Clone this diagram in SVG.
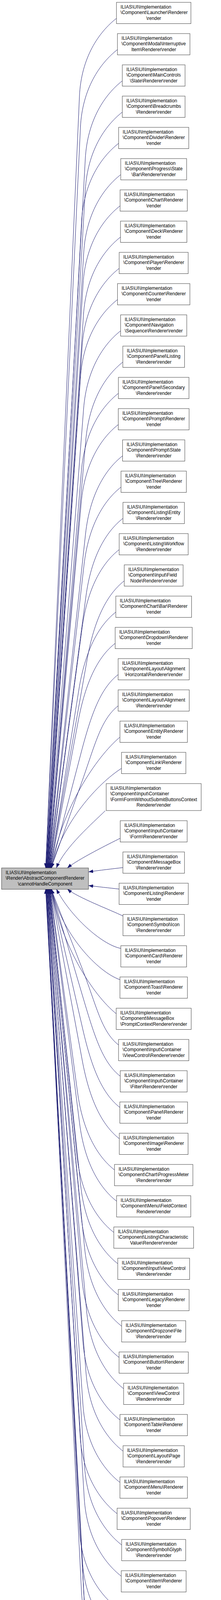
<svg xmlns="http://www.w3.org/2000/svg" width="567" height="4483" viewBox="0 0 567 4483">
<style>
.box{fill:#ffffff;stroke:#404040;stroke-width:1}
.main{fill:#bfbfbf;stroke:#404040;stroke-width:1}
text{font-family:"Liberation Sans",Arial,Helvetica,sans-serif;font-size:12px;fill:#000000}
.c{text-anchor:middle}
.e{fill:none;stroke:#191970;stroke-width:1;marker-end:url(#arr)}
</style>
<defs>
<marker id="arr" markerUnits="userSpaceOnUse" markerWidth="12" markerHeight="9" viewBox="0 0 12 9" refX="12" refY="4.5" orient="auto"><path d="M0,0 L12,4.5 L0,9 Z" fill="#191970"/></marker>
</defs>
<rect width="567" height="4483" fill="#ffffff"/>
<g id="edges">
<path class="e" d="M298.8,47 C253.8,82 208.2,147 203.8,247 L117,2222"/>
<path class="e" d="M301.3,127 C256.3,162 211,227 206.3,327 L117.65,2222"/>
<path class="e" d="M313.8,207 C268.8,242 224.3,307 218.8,407 L118.3,2222"/>
<path class="e" d="M313.8,287 C268.8,322 224.6,387 218.8,487 L118.95,2222"/>
<path class="e" d="M304.3,367 C259.3,402 214.7,467 209.3,567 L119.6,2222"/>
<path class="e" d="M309.8,447 C264.8,482 220.8,547 214.8,647 L120.25,2222"/>
<path class="e" d="M308.1,527 C263.1,562 219.3,627 213.1,727 L120.9,2222"/>
<path class="e" d="M309.1,607 C264.1,642 220.6,707 214.1,807 L121.55,2222"/>
<path class="e" d="M305.8,687 C260.8,722 217.4,787 210.8,887 L122.2,2222"/>
<path class="e" d="M301.45,767 C256.45,802 213.1,867 206.45,967 L122.85,2222"/>
<path class="e" d="M309.45,847 C264.45,882 222.2,947 214.45,1047 L123.5,2222"/>
<path class="e" d="M315.1,927 C270.1,962 228.9,1027 220.1,1127 L124.15,2222"/>
<path class="e" d="M303.75,1007 C258.75,1042 217,1107 208.75,1207 L124.8,2222"/>
<path class="e" d="M303.45,1087 C258.45,1122 217.3,1187 208.45,1287 L125.45,2222"/>
<path class="e" d="M314.45,1167 C269.45,1202 230.4,1267 219.45,1367 L126.1,2222"/>
<path class="e" d="M310.45,1247 C265.45,1282 226.9,1347 215.45,1447 L126.75,2222"/>
<path class="e" d="M315.45,1327 C270.45,1362 233.8,1427 220.45,1527 L127.4,2222"/>
<path class="e" d="M305.8,1407 C260.8,1442 224.3,1507 210.8,1607 L128.05,2222"/>
<path class="e" d="M318.8,1487 C273.8,1522 241.6,1587 223.8,1687 L128.7,2222"/>
<path class="e" d="M297.1,1567 C252.1,1602 218.1,1667 202.1,1767 L129.35,2222"/>
<path class="e" d="M295.45,1647 C250.45,1682 219.2,1747 200.45,1847 L130,2222"/>
<path class="e" d="M303.1,1727 C258.1,1762 234.35,1827 208.1,1927 L130.65,2222"/>
<path class="e" d="M303.1,1807 C258.1,1842 243.8,1907 208.1,2007 L131.3,2222"/>
<path class="e" d="M307.75,1887 C247.75,1937 157,2071 131.95,2222"/>
<path class="e" d="M311.75,1967 C251.75,2005 157.6,2107 132.6,2222"/>
<path class="e" d="M270,2075.5 C240,2105 165,2170 144.7,2222"/>
<path class="e" d="M308.45,2146 C280,2160 200,2200 172.6,2222"/>
<path class="e" d="M315.3,2221 C290,2224 255,2228 227,2232"/>
<path class="e" d="M305.55,2276 C280,2273 250,2270 227,2267"/>
<path class="e" d="M315.5,2345 C285,2330 200,2298 172.6,2276"/>
<path class="e" d="M310,2428 C260,2418 180,2345 144.7,2276"/>
<path class="e" d="M307.75,2508 C250,2488 158,2390 132.6,2276"/>
<path class="e" d="M298.1,2595 C238.1,2547 157,2420 131.95,2276"/>
<path class="e" d="M304.1,2675 C259.1,2640 248.2,2575 209.1,2475 L131.3,2276"/>
<path class="e" d="M308.45,2755 C263.45,2720 243.15,2655 213.45,2555 L130.65,2276"/>
<path class="e" d="M307.45,2835 C262.45,2800 235.4,2735 212.45,2635 L130,2276"/>
<path class="e" d="M306.1,2915 C261.1,2880 229.7,2815 211.1,2715 L129.35,2276"/>
<path class="e" d="M293.75,2995 C248.75,2960 212.25,2895 198.75,2795 L128.7,2276"/>
<path class="e" d="M299.1,3075 C254.1,3040 216.8,2975 204.1,2875 L128.05,2276"/>
<path class="e" d="M291.95,3155 C246.95,3120 207.2,3055 196.95,2955 L127.4,2276"/>
<path class="e" d="M302.1,3235 C257.1,3200 217.7,3135 207.1,3035 L126.75,2276"/>
<path class="e" d="M303.45,3315 C258.45,3280 218.3,3215 208.45,3115 L126.1,2276"/>
<path class="e" d="M312.1,3395 C267.1,3360 227.1,3295 217.1,3195 L125.45,2276"/>
<path class="e" d="M305.45,3475 C260.45,3440 219,3375 210.45,3275 L124.8,2276"/>
<path class="e" d="M317.1,3555 C272.1,3520 231.2,3455 222.1,3355 L124.15,2276"/>
<path class="e" d="M307.75,3635 C262.75,3600 220.5,3535 212.75,3435 L123.5,2276"/>
<path class="e" d="M315.75,3715 C270.75,3680 228.7,3615 220.75,3515 L122.85,2276"/>
<path class="e" d="M307.75,3795 C262.75,3760 219.6,3695 212.75,3595 L122.2,2276"/>
<path class="e" d="M300.45,3875 C255.45,3840 211.45,3775 205.45,3675 L121.55,2276"/>
<path class="e" d="M312.1,3955 C267.1,3920 223.6,3855 217.1,3755 L120.9,2276"/>
<path class="e" d="M311.1,4035 C266.1,4000 222.3,3935 216.1,3835 L120.25,2276"/>
<path class="e" d="M298.75,4115 C253.75,4080 208.9,4015 203.75,3915 L119.6,2276"/>
<path class="e" d="M306.45,4195 C261.45,4160 216.85,4095 211.45,3995 L118.95,2276"/>
<path class="e" d="M304.1,4275 C259.1,4240 214.15,4175 209.1,4075 L118.3,2276"/>
<path class="e" d="M314.1,4355 C269.1,4320 224.5,4255 219.1,4155 L117.65,2276"/>
<path class="e" d="M318.75,4435 C273.75,4400 229.2,4335 223.75,4235 L117,2276"/>
</g>
<g id="node0"><rect class="main" x="4" y="2222" width="223" height="54.5"/><text x="14.5" y="2237.5">ILIAS\UI\Implementation</text><text x="14.5" y="2252">\Render\AbstractComponentRenderer</text><text class="c" x="115.5" y="2266.5">\cannotHandleComponent</text></g>
<g id="node1"><rect class="box" x="298.8" y="6" width="191" height="54.5"/><text x="309.3" y="21.5">ILIAS\UI\Implementation</text><text x="309.3" y="36">\Component\Launcher\Renderer</text><text class="c" x="394.3" y="50.5">\render</text></g>
<g id="node2"><rect class="box" x="301.3" y="86" width="186" height="54.5"/><text x="311.8" y="101.5">ILIAS\UI\Implementation</text><text x="311.8" y="116">\Component\Modal\Interruptive</text><text class="c" x="394.3" y="130.5">Item\Renderer\render</text></g>
<g id="node3"><rect class="box" x="313.8" y="166" width="161" height="54.5"/><text x="324.3" y="181.5">ILIAS\UI\Implementation</text><text x="324.3" y="196">\Component\MainControls</text><text class="c" x="394.3" y="210.5">\Slate\Renderer\render</text></g>
<g id="node4"><rect class="box" x="313.8" y="246" width="161" height="54.5"/><text x="324.3" y="261.5">ILIAS\UI\Implementation</text><text x="324.3" y="276">\Component\Breadcrumbs</text><text class="c" x="394.3" y="290.5">\Renderer\render</text></g>
<g id="node5"><rect class="box" x="304.3" y="326" width="180" height="54.5"/><text x="314.8" y="341.5">ILIAS\UI\Implementation</text><text x="314.8" y="356">\Component\Divider\Renderer</text><text class="c" x="394.3" y="370.5">\render</text></g>
<g id="node6"><rect class="box" x="309.8" y="406" width="169" height="54.5"/><text x="320.3" y="421.5">ILIAS\UI\Implementation</text><text x="320.3" y="436">\Component\Progress\State</text><text class="c" x="394.3" y="450.5">\Bar\Renderer\render</text></g>
<g id="node7"><rect class="box" x="308.1" y="486" width="172.4" height="54.5"/><text x="318.6" y="501.5">ILIAS\UI\Implementation</text><text x="318.6" y="516">\Component\Chart\Renderer</text><text class="c" x="394.3" y="530.5">\render</text></g>
<g id="node8"><rect class="box" x="309.1" y="566" width="170.4" height="54.5"/><text x="319.6" y="581.5">ILIAS\UI\Implementation</text><text x="319.6" y="596">\Component\Deck\Renderer</text><text class="c" x="394.3" y="610.5">\render</text></g>
<g id="node9"><rect class="box" x="305.8" y="646" width="177" height="54.5"/><text x="316.3" y="661.5">ILIAS\UI\Implementation</text><text x="316.3" y="676">\Component\Player\Renderer</text><text class="c" x="394.3" y="690.5">\render</text></g>
<g id="node10"><rect class="box" x="301.45" y="726" width="185.7" height="54.5"/><text x="311.95" y="741.5">ILIAS\UI\Implementation</text><text x="311.95" y="756">\Component\Counter\Renderer</text><text class="c" x="394.3" y="770.5">\render</text></g>
<g id="node11"><rect class="box" x="309.45" y="806" width="169.7" height="54.5"/><text x="319.95" y="821.5">ILIAS\UI\Implementation</text><text x="319.95" y="836">\Component\Navigation</text><text class="c" x="394.3" y="850.5">\Sequence\Renderer\render</text></g>
<g id="node12"><rect class="box" x="315.1" y="886" width="158.4" height="54.5"/><text x="325.6" y="901.5">ILIAS\UI\Implementation</text><text x="325.6" y="916">\Component\Panel\Listing</text><text class="c" x="394.3" y="930.5">\Renderer\render</text></g>
<g id="node13"><rect class="box" x="303.75" y="966" width="181.1" height="54.5"/><text x="314.25" y="981.5">ILIAS\UI\Implementation</text><text x="314.25" y="996">\Component\Panel\Secondary</text><text class="c" x="394.3" y="1010.5">\Renderer\render</text></g>
<g id="node14"><rect class="box" x="303.45" y="1046" width="181.7" height="54.5"/><text x="313.95" y="1061.5">ILIAS\UI\Implementation</text><text x="313.95" y="1076">\Component\Prompt\Renderer</text><text class="c" x="394.3" y="1090.5">\render</text></g>
<g id="node15"><rect class="box" x="314.45" y="1126" width="159.7" height="54.5"/><text x="324.95" y="1141.5">ILIAS\UI\Implementation</text><text x="324.95" y="1156">\Component\Prompt\State</text><text class="c" x="394.3" y="1170.5">\Renderer\render</text></g>
<g id="node16"><rect class="box" x="310.45" y="1206" width="167.7" height="54.5"/><text x="320.95" y="1221.5">ILIAS\UI\Implementation</text><text x="320.95" y="1236">\Component\Tree\Renderer</text><text class="c" x="394.3" y="1250.5">\render</text></g>
<g id="node17"><rect class="box" x="315.45" y="1286" width="157.7" height="54.5"/><text x="325.95" y="1301.5">ILIAS\UI\Implementation</text><text x="325.95" y="1316">\Component\Listing\Entity</text><text class="c" x="394.3" y="1330.5">\Renderer\render</text></g>
<g id="node18"><rect class="box" x="305.8" y="1366" width="177" height="54.5"/><text x="316.3" y="1381.5">ILIAS\UI\Implementation</text><text x="316.3" y="1396">\Component\Listing\Workflow</text><text class="c" x="394.3" y="1410.5">\Renderer\render</text></g>
<g id="node19"><rect class="box" x="318.8" y="1446" width="151" height="54.5"/><text x="329.3" y="1461.5">ILIAS\UI\Implementation</text><text x="329.3" y="1476">\Component\Input\Field</text><text class="c" x="394.3" y="1490.5">Node\Renderer\render</text></g>
<g id="node20"><rect class="box" x="297.1" y="1526" width="194.4" height="54.5"/><text x="307.6" y="1541.5">ILIAS\UI\Implementation</text><text x="307.6" y="1556">\Component\Chart\Bar\Renderer</text><text class="c" x="394.3" y="1570.5">\render</text></g>
<g id="node21"><rect class="box" x="295.45" y="1606" width="197.7" height="54.5"/><text x="305.95" y="1621.5">ILIAS\UI\Implementation</text><text x="305.95" y="1636">\Component\Dropdown\Renderer</text><text class="c" x="394.3" y="1650.5">\render</text></g>
<g id="node22"><rect class="box" x="303.1" y="1686" width="182.4" height="54.5"/><text x="313.6" y="1701.5">ILIAS\UI\Implementation</text><text x="313.6" y="1716">\Component\Layout\Alignment</text><text class="c" x="394.3" y="1730.5">\Horizontal\Renderer\render</text></g>
<g id="node23"><rect class="box" x="303.1" y="1766" width="182.4" height="54.5"/><text x="313.6" y="1781.5">ILIAS\UI\Implementation</text><text x="313.6" y="1796">\Component\Layout\Alignment</text><text class="c" x="394.3" y="1810.5">\Renderer\render</text></g>
<g id="node24"><rect class="box" x="307.75" y="1846" width="173.1" height="54.5"/><text x="318.25" y="1861.5">ILIAS\UI\Implementation</text><text x="318.25" y="1876">\Component\Entity\Renderer</text><text class="c" x="394.3" y="1890.5">\render</text></g>
<g id="node25"><rect class="box" x="311.75" y="1926" width="165.1" height="54.5"/><text x="322.25" y="1941.5">ILIAS\UI\Implementation</text><text x="322.25" y="1956">\Component\Link\Renderer</text><text class="c" x="394.3" y="1970.5">\render</text></g>
<g id="node26"><rect class="box" x="272.45" y="2006" width="243.7" height="69"/><text x="282.95" y="2021.5">ILIAS\UI\Implementation</text><text x="282.95" y="2036">\Component\Input\Container</text><text x="282.95" y="2050.5">\Form\FormWithoutSubmitButtonsContext</text><text class="c" x="394.3" y="2065">Renderer\render</text></g>
<g id="node27"><rect class="box" x="308.45" y="2101" width="171.7" height="54.5"/><text x="318.95" y="2116.5">ILIAS\UI\Implementation</text><text x="318.95" y="2131">\Component\Input\Container</text><text class="c" x="394.3" y="2145.5">\Form\Renderer\render</text></g>
<g id="node28"><rect class="box" x="315.3" y="2181" width="158" height="54.5"/><text x="325.8" y="2196.5">ILIAS\UI\Implementation</text><text x="325.8" y="2211">\Component\MessageBox</text><text class="c" x="394.3" y="2225.5">\Renderer\render</text></g>
<g id="node29"><rect class="box" x="305.55" y="2261" width="177.5" height="54.5"/><text x="316.05" y="2276.5">ILIAS\UI\Implementation</text><text x="316.05" y="2291">\Component\Listing\Renderer</text><text class="c" x="394.3" y="2305.5">\render</text></g>
<g id="node30"><rect class="box" x="315.5" y="2341" width="157.6" height="54.5"/><text x="326" y="2356.5">ILIAS\UI\Implementation</text><text x="326" y="2371">\Component\Symbol\Icon</text><text class="c" x="394.3" y="2385.5">\Renderer\render</text></g>
<g id="node31"><rect class="box" x="309.95" y="2421" width="168.7" height="54.5"/><text x="320.45" y="2436.5">ILIAS\UI\Implementation</text><text x="320.45" y="2451">\Component\Card\Renderer</text><text class="c" x="394.3" y="2465.5">\render</text></g>
<g id="node32"><rect class="box" x="307.75" y="2501" width="173.1" height="54.5"/><text x="318.25" y="2516.5">ILIAS\UI\Implementation</text><text x="318.25" y="2531">\Component\Toast\Renderer</text><text class="c" x="394.3" y="2545.5">\render</text></g>
<g id="node33"><rect class="box" x="298.1" y="2581" width="192.4" height="54.5"/><text x="308.6" y="2596.5">ILIAS\UI\Implementation</text><text x="308.6" y="2611">\Component\MessageBox</text><text class="c" x="394.3" y="2625.5">\PromptContextRenderer\render</text></g>
<g id="node34"><rect class="box" x="304.1" y="2661" width="180.4" height="54.5"/><text x="314.6" y="2676.5">ILIAS\UI\Implementation</text><text x="314.6" y="2691">\Component\Input\Container</text><text class="c" x="394.3" y="2705.5">\ViewControl\Renderer\render</text></g>
<g id="node35"><rect class="box" x="308.45" y="2741" width="171.7" height="54.5"/><text x="318.95" y="2756.5">ILIAS\UI\Implementation</text><text x="318.95" y="2771">\Component\Input\Container</text><text class="c" x="394.3" y="2785.5">\Filter\Renderer\render</text></g>
<g id="node36"><rect class="box" x="307.45" y="2821" width="173.7" height="54.5"/><text x="317.95" y="2836.5">ILIAS\UI\Implementation</text><text x="317.95" y="2851">\Component\Panel\Renderer</text><text class="c" x="394.3" y="2865.5">\render</text></g>
<g id="node37"><rect class="box" x="306.1" y="2901" width="176.4" height="54.5"/><text x="316.6" y="2916.5">ILIAS\UI\Implementation</text><text x="316.6" y="2931">\Component\Image\Renderer</text><text class="c" x="394.3" y="2945.5">\render</text></g>
<g id="node38"><rect class="box" x="293.75" y="2981" width="201.1" height="54.5"/><text x="304.25" y="2996.5">ILIAS\UI\Implementation</text><text x="304.25" y="3011">\Component\Chart\ProgressMeter</text><text class="c" x="394.3" y="3025.5">\Renderer\render</text></g>
<g id="node39"><rect class="box" x="299.1" y="3061" width="190.4" height="54.5"/><text x="309.6" y="3076.5">ILIAS\UI\Implementation</text><text x="309.6" y="3091">\Component\Menu\FieldContext</text><text class="c" x="394.3" y="3105.5">Renderer\render</text></g>
<g id="node40"><rect class="box" x="291.95" y="3141" width="204.7" height="54.5"/><text x="302.45" y="3156.5">ILIAS\UI\Implementation</text><text x="302.45" y="3171">\Component\Listing\Characteristic</text><text class="c" x="394.3" y="3185.5">Value\Renderer\render</text></g>
<g id="node41"><rect class="box" x="302.1" y="3221" width="184.4" height="54.5"/><text x="312.6" y="3236.5">ILIAS\UI\Implementation</text><text x="312.6" y="3251">\Component\Input\ViewControl</text><text class="c" x="394.3" y="3265.5">\Renderer\render</text></g>
<g id="node42"><rect class="box" x="303.45" y="3301" width="181.7" height="54.5"/><text x="313.95" y="3316.5">ILIAS\UI\Implementation</text><text x="313.95" y="3331">\Component\Legacy\Renderer</text><text class="c" x="394.3" y="3345.5">\render</text></g>
<g id="node43"><rect class="box" x="312.1" y="3381" width="164.4" height="54.5"/><text x="322.6" y="3396.5">ILIAS\UI\Implementation</text><text x="322.6" y="3411">\Component\Dropzone\File</text><text class="c" x="394.3" y="3425.5">\Renderer\render</text></g>
<g id="node44"><rect class="box" x="305.45" y="3461" width="177.7" height="54.5"/><text x="315.95" y="3476.5">ILIAS\UI\Implementation</text><text x="315.95" y="3491">\Component\Button\Renderer</text><text class="c" x="394.3" y="3505.5">\render</text></g>
<g id="node45"><rect class="box" x="317.1" y="3541" width="154.4" height="54.5"/><text x="327.6" y="3556.5">ILIAS\UI\Implementation</text><text x="327.6" y="3571">\Component\ViewControl</text><text class="c" x="394.3" y="3585.5">\Renderer\render</text></g>
<g id="node46"><rect class="box" x="307.75" y="3621" width="173.1" height="54.5"/><text x="318.25" y="3636.5">ILIAS\UI\Implementation</text><text x="318.25" y="3651">\Component\Table\Renderer</text><text class="c" x="394.3" y="3665.5">\render</text></g>
<g id="node47"><rect class="box" x="315.75" y="3701" width="157.1" height="54.5"/><text x="326.25" y="3716.5">ILIAS\UI\Implementation</text><text x="326.25" y="3731">\Component\Layout\Page</text><text class="c" x="394.3" y="3745.5">\Renderer\render</text></g>
<g id="node48"><rect class="box" x="307.75" y="3781" width="173.1" height="54.5"/><text x="318.25" y="3796.5">ILIAS\UI\Implementation</text><text x="318.25" y="3811">\Component\Menu\Renderer</text><text class="c" x="394.3" y="3825.5">\render</text></g>
<g id="node49"><rect class="box" x="300.45" y="3861" width="187.7" height="54.5"/><text x="310.95" y="3876.5">ILIAS\UI\Implementation</text><text x="310.95" y="3891">\Component\Popover\Renderer</text><text class="c" x="394.3" y="3905.5">\render</text></g>
<g id="node50"><rect class="box" x="312.1" y="3941" width="164.4" height="54.5"/><text x="322.6" y="3956.5">ILIAS\UI\Implementation</text><text x="322.6" y="3971">\Component\Symbol\Glyph</text><text class="c" x="394.3" y="3985.5">\Renderer\render</text></g>
<g id="node51"><rect class="box" x="311.1" y="4021" width="166.4" height="54.5"/><text x="321.6" y="4036.5">ILIAS\UI\Implementation</text><text x="321.6" y="4051">\Component\Item\Renderer</text><text class="c" x="394.3" y="4065.5">\render</text></g>
<g id="node52"><rect class="box" x="298.75" y="4101" width="191.1" height="54.5"/><text x="309.25" y="4116.5">ILIAS\UI\Implementation</text><text x="309.25" y="4131">\Component\Progress\Renderer</text><text class="c" x="394.3" y="4145.5">\render</text></g>
<g id="node53"><rect class="box" x="306.45" y="4181" width="175.7" height="54.5"/><text x="316.95" y="4196.5">ILIAS\UI\Implementation</text><text x="316.95" y="4211">\Component\Modal\Renderer</text><text class="c" x="394.3" y="4225.5">\render</text></g>
<g id="node54"><rect class="box" x="304.1" y="4261" width="180.4" height="54.5"/><text x="314.6" y="4276.5">ILIAS\UI\Implementation</text><text x="314.6" y="4291">\Component\Input\Field</text><text class="c" x="394.3" y="4305.5">\FilterContextRenderer\render</text></g>
<g id="node55"><rect class="box" x="314.1" y="4341" width="160.4" height="54.5"/><text x="324.6" y="4356.5">ILIAS\UI\Implementation</text><text x="324.6" y="4371">\Component\MainControls</text><text class="c" x="394.3" y="4385.5">\Renderer\render</text></g>
<g id="node56"><rect class="box" x="318.75" y="4421" width="151.1" height="54.5"/><text x="329.25" y="4436.5">ILIAS\UI\Implementation</text><text x="329.25" y="4451">\Component\Input\Field</text><text class="c" x="394.3" y="4465.5">\Renderer\render</text></g>
</svg>
